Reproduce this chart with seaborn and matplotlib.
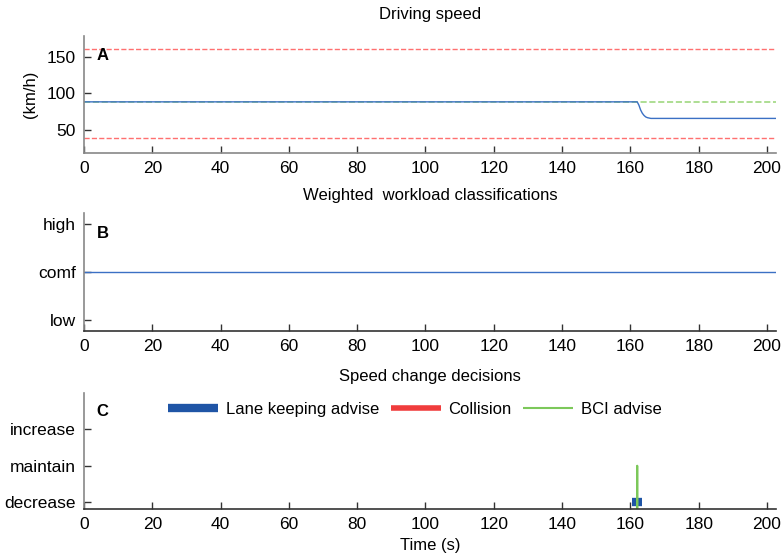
import numpy as np
import pandas as pd
import matplotlib
matplotlib.use("Agg")
import matplotlib.pyplot as plt
import seaborn as sns

# Data
speed_t = [0, 162.0, 162.5, 163.0, 163.5, 164.0, 164.5, 165.0, 166.0, 203]
speed_kmh = [88.5, 88.5, 84.0, 77.5, 73.0, 70.0, 68.0, 67.0, 66.0, 66.0]
speed_limits = [160, 40]
speed_target = 88.5

workload_t = [0, 203]
workload_level = [2, 2]
workload_labels = ["low", "comf", "high"]

decision_labels = ["decrease", "maintain", "increase"]
lane_t = [160.6, 163.3]
lane_level = [1, 1]
bci_t = [161.9, 162.0, 162.1]
bci_level = [0, 2, 0]
collision_t = []
collision_level = []

XMAX = 202.7
FS = 12
FS_TICK = 12.5
C_BLUE = "#3b70c4"
C_LANE = "#1f55a6"
C_RED = "#f03c3c"
C_RED_LIGHT = "#ff7070"
C_GREEN = "#7cc85a"
C_GREEN_LIGHT = "#a0d880"

sns.set_theme(style="ticks")
plt.rcParams["font.family"] = ["Liberation Sans", "DejaVu Sans"]
plt.rcParams["font.size"] = FS
plt.rcParams["text.color"] = "black"
plt.rcParams["axes.labelcolor"] = "black"

fig = plt.figure(figsize=(7.83, 5.59), dpi=100)
axA = fig.add_axes([0.1073, 0.7263, 0.884, 0.2093])
axB = fig.add_axes([0.1073, 0.408, 0.884, 0.211])
axC = fig.add_axes([0.1073, 0.0894, 0.884, 0.2075])


def style_axis(ax, left_col="#888888", bottom_col="#333333"):
    for s in ["top", "right"]:
        ax.spines[s].set_visible(False)
    ax.spines["left"].set_color(left_col)
    ax.spines["bottom"].set_color(bottom_col)
    ax.spines["left"].set_linewidth(1.2)
    ax.spines["bottom"].set_linewidth(1.2)
    ax.tick_params(direction="in", length=5, width=1, colors="#333333",
                   labelcolor="black", labelsize=FS_TICK, pad=6)
    ax.set_xlim(0, XMAX)
    ax.set_xticks(range(0, 201, 20))
    ax.set_xlabel("")
    ax.set_ylabel("")


def panel_label(ax, text, y):
    ax.text(0.018, y, text, transform=ax.transAxes, fontsize=12,
            fontweight="bold", va="center", ha="left", color="black")


# A: driving speed
speed_df = pd.DataFrame({"t": speed_t, "v": speed_kmh})
for lim in speed_limits:
    axA.axhline(lim, color=C_RED_LIGHT, ls="--", lw=1)
axA.axhline(speed_target, color=C_GREEN_LIGHT, ls="--", lw=1.2)
sns.lineplot(data=speed_df, x="t", y="v", ax=axA, color=C_BLUE, lw=1)
style_axis(axA, "#888888", "#888888")
axA.set_ylim(19, 178)
axA.set_yticks([50, 100, 150])
axA.set_ylabel("(km/h)", fontsize=FS, labelpad=6)
axA.set_title("Driving speed", fontsize=FS, pad=12.5)
panel_label(axA, "A", 0.83)

# B: workload
wl_df = pd.DataFrame({"t": workload_t, "w": workload_level})
sns.lineplot(data=wl_df, x="t", y="w", ax=axB, color=C_BLUE, lw=1)
style_axis(axB)
axB.set_ylim(0.78, 3.23)
axB.set_yticks([1, 2, 3])
axB.set_yticklabels(workload_labels)
axB.set_title("Weighted  workload classifications", fontsize=FS, pad=9.5)
panel_label(axB, "B", 0.83)

# C: speed change decisions
lane_df = pd.DataFrame({"t": lane_t, "d": lane_level})
bci_df = pd.DataFrame({"t": bci_t, "d": bci_level})
sns.lineplot(data=lane_df, x="t", y="d", ax=axC, color=C_LANE, lw=6,
             label="Lane keeping advise", solid_capstyle="butt")
axC.plot(collision_t, collision_level, color=C_RED, lw=4, label="Collision",
         solid_capstyle="butt")
sns.lineplot(data=bci_df, x="t", y="d", ax=axC, color=C_GREEN, lw=1.5,
             label="BCI advise", estimator=None)
style_axis(axC)
axC.set_ylim(0.81, 4.0)
axC.set_yticks([1, 2, 3])
axC.set_yticklabels(decision_labels)
axC.set_title("Speed change decisions", fontsize=FS, pad=9)
axC.set_xlabel("Time (s)", fontsize=FS, labelpad=4)
panel_label(axC, "C", 0.845)
leg = axC.legend(loc="center", bbox_to_anchor=(0.478, 0.862), ncol=3,
                 frameon=False, fontsize=FS, handlelength=3.0,
                 columnspacing=0.7, handletextpad=0.45,
                 borderpad=0, borderaxespad=0)
for h, w in zip(leg.get_lines(), [6, 4, 1.5]):
    h.set_linewidth(w)
    h.set_solid_capstyle("butt")

fig.savefig("out.png", dpi=100)
